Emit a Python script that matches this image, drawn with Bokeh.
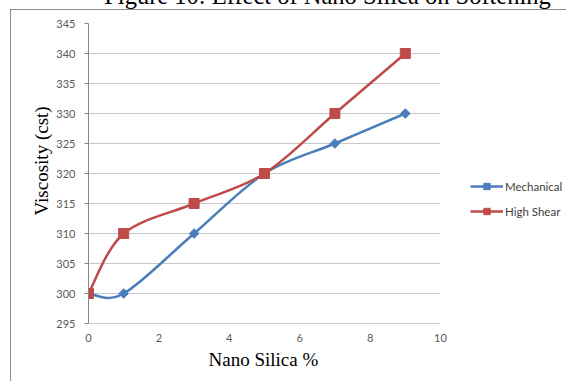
import math
from bokeh.plotting import figure
from bokeh.models import (Range1d, Legend, LegendItem, Title, FixedTicker,
                          InlineStyleSheet, BoxAnnotation)
from bokeh.embed import file_html
from bokeh.resources import INLINE

# ---- data ----
nano_silica = [0, 1, 3, 5, 7, 9]
mechanical = [300, 300, 310, 320, 325, 330]
high_shear = [300, 310, 315, 320, 330, 340]
series_names = ["Mechanical", "High Shear"]
y_ticks = [295, 300, 305, 310, 315, 320, 325, 330, 335, 340, 345]
x_ticks = [0, 2, 4, 6, 8, 10]
title_text = "Figure 10: Effect of Nano Silica on Softening"
x_label = "Nano Silica %"
y_label = "Viscosity (cst)"

BLUE = "#4A7EBB"
RED = "#BE4B48"

X_MIN, X_MAX = 0, 10
# the frame runs on to the right edge; the axis scale keeps 0..10 over 352 px
X_VIEW_MAX = X_MAX + (566 - 440) * (X_MAX - X_MIN) / 352.0

SHIFT = 40          # part of the canvas scrolled above the window (title is cut off)
TOP = 23 + SHIFT    # frame top in canvas pixels


def smooth_segments(xs, ys):
    """Catmull-Rom style bezier control points (Excel-like smoothed line)."""
    n = len(xs)
    seg = dict(x0=[], y0=[], x1=[], y1=[], cx0=[], cy0=[], cx1=[], cy1=[])
    for i in range(n - 1):
        xp, yp = (xs[i - 1], ys[i - 1]) if i > 0 else (xs[i], ys[i])
        xn, yn = (xs[i + 2], ys[i + 2]) if i + 2 < n else (xs[i + 1], ys[i + 1])
        seg["x0"].append(xs[i]); seg["y0"].append(ys[i])
        seg["x1"].append(xs[i + 1]); seg["y1"].append(ys[i + 1])
        seg["cx0"].append(xs[i] + (xs[i + 1] - xp) / 6.0)
        seg["cy0"].append(ys[i] + (ys[i + 1] - yp) / 6.0)
        seg["cx1"].append(xs[i + 1] - (xn - xs[i]) / 6.0)
        seg["cy1"].append(ys[i + 1] - (yn - ys[i]) / 6.0)
    return seg


p = figure(width=566, height=381 + SHIFT, output_backend="svg", toolbar_location=None,
           x_range=Range1d(X_MIN, X_VIEW_MAX), y_range=Range1d(295, 345),
           min_border_left=88, min_border_right=0, min_border_top=TOP, min_border_bottom=58)
p.outline_line_color = None
p.background_fill_color = "white"
p.border_fill_color = "white"
p.styles = {"margin-top": f"-{SHIFT}px"}
p.stylesheets = [InlineStyleSheet(css=f"""
:host {{ position: relative; }}
:host::after {{
  content: ""; position: absolute; z-index: 10; pointer-events: none;
  left: 10px; top: {9 + SHIFT}px; right: -10px; bottom: -10px;
  border-left: 1px solid #8C8C8C; border-top: 1px solid #8C8C8C;
}}
""")]

p.title = Title(text=title_text, align="center",
                text_font="Liberation Serif", text_font_size="24.5px",
                text_font_style="normal", text_color="black")
if hasattr(p.title, "padding"):
    p.title.padding = 10

p.xgrid.visible = False
p.ygrid.grid_line_color = "#C8C8C8"
p.ygrid.grid_line_width = 1
try:
    p.ygrid.cross_bounds = (X_MIN, X_MAX)
except Exception:
    p.add_layout(BoxAnnotation(left=X_MAX, fill_color="white", fill_alpha=1,
                               line_color=None, level="underlay"))

p.yaxis.ticker = FixedTicker(ticks=y_ticks)
p.xaxis.ticker = FixedTicker(ticks=x_ticks)
p.xaxis.bounds = (X_MIN, X_MAX)
for ax in (p.xaxis[0], p.yaxis[0]):
    ax.axis_line_color = "#868686"
    ax.major_tick_line_color = "#868686"
    ax.minor_tick_line_color = None
    ax.major_tick_in = 0
    ax.major_label_text_font = "Lato"
    ax.major_label_text_font_size = "11px"
    ax.major_label_text_color = "#595959"
p.yaxis.major_tick_out = 4
p.xaxis.major_tick_out = 0
p.xaxis.axis_line_color = "#C8C8C8"
p.yaxis.major_label_standoff = 9
p.xaxis.major_label_standoff = 10

# axis titles placed as side-panel titles so they sit over the 0..10 axis span
p.add_layout(Title(text=x_label, align="left", offset=120, standoff=4,
                   text_font="Liberation Serif", text_font_size="19px",
                   text_font_style="normal", text_color="black"), "below")
p.add_layout(Title(text=y_label, align="left", offset=108, standoff=3,
                   text_font="Liberation Serif", text_font_size="19px",
                   text_font_style="normal", text_color="black"), "left")

ms = smooth_segments(nano_silica, mechanical)
hs = smooth_segments(nano_silica, high_shear)
m_line = p.bezier(line_color=BLUE, line_width=2.5, **ms)
h_line = p.bezier(line_color=RED, line_width=2.5, **hs)
m_pts = p.scatter(nano_silica, mechanical, marker="square", angle=math.pi / 4,
                  size=6.8, color=BLUE)
h_pts = p.scatter(nano_silica, high_shear, marker="square", size=10, color=RED)

legend = Legend(items=[LegendItem(label=series_names[0], renderers=[m_line, m_pts]),
                       LegendItem(label=series_names[1], renderers=[h_line, h_pts])],
                location=(382, 104), padding=0, margin=0, spacing=9,
                glyph_width=33, glyph_height=16, label_height=16, label_standoff=2,
                label_text_font="Lato", label_text_font_size="11.5px",
                label_text_color="#404040", border_line_color=None,
                background_fill_alpha=0)
p.add_layout(legend, "center")

open("out.html", "w").write(file_html(p, INLINE))
